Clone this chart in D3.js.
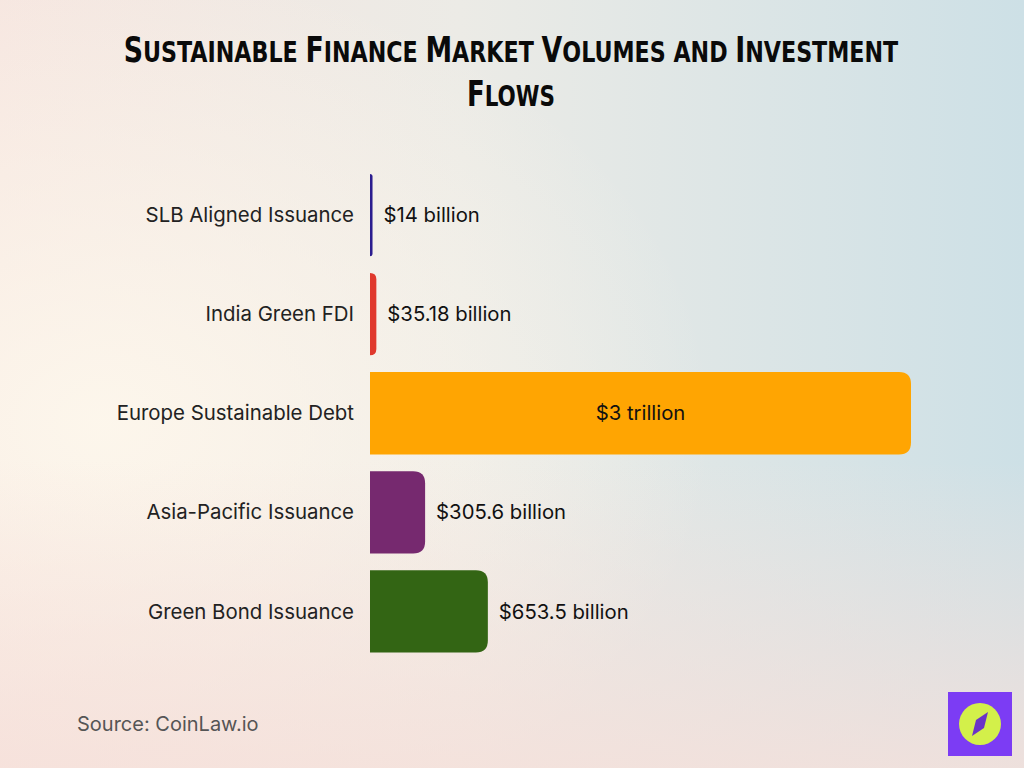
<!DOCTYPE html>
<html><head><meta charset="utf-8">
<script src="https://cdn.jsdelivr.net/npm/d3@7"></script>
<style>html,body{margin:0;padding:0;}svg{display:block;}</style>
</head><body>
<script>
const categories = ["SLB Aligned Issuance","India Green FDI","Europe Sustainable Debt","Asia-Pacific Issuance","Green Bond Issuance"];
const valuesBillion = [14, 35.18, 3000, 305.6, 653.5];
const valueLabels = ["$14 billion","$35.18 billion","$3 trillion","$305.6 billion","$653.5 billion"];
const colors = ["#2b1d8f","#e0392d","#ffa502","#76296f","#336514"];
const titleLines = ["Sustainable Finance Market Volumes and Investment", "Flows"];

const W = 1024, H = 768;
const svg = d3.select("body").append("svg").attr("width", W).attr("height", H);
const defs = svg.append("defs");

// background gradients
const g1 = defs.append("linearGradient").attr("id","bg1").attr("x1","0").attr("y1","0").attr("x2","1").attr("y2","0");
g1.append("stop").attr("offset","0").attr("stop-color","#f6e6e0");
g1.append("stop").attr("offset","0.45").attr("stop-color","#ecebe6");
g1.append("stop").attr("offset","1").attr("stop-color","#cde0e6");
svg.append("rect").attr("width",W).attr("height",H).attr("fill","url(#bg1)");
const g2 = defs.append("radialGradient").attr("id","bg2").attr("cx","0.1").attr("cy","0.55").attr("r","0.6");
g2.append("stop").attr("offset","0").attr("stop-color","#fdf7ec").attr("stop-opacity","0.95");
g2.append("stop").attr("offset","1").attr("stop-color","#fdf7ec").attr("stop-opacity","0");
svg.append("rect").attr("width",W).attr("height",H).attr("fill","url(#bg2)");
const g3 = defs.append("linearGradient").attr("id","bg3").attr("x1","0").attr("y1","0").attr("x2","0").attr("y2","1");
g3.append("stop").attr("offset","0.6").attr("stop-color","#f6e0da").attr("stop-opacity","0");
g3.append("stop").attr("offset","1").attr("stop-color","#f6e0da").attr("stop-opacity","0.8");
svg.append("rect").attr("width",W).attr("height",H).attr("fill","url(#bg3)");

// title: manual small caps (upper-case letters large, lower-case letters smaller caps), condensed by x-scaling
const title = svg.append("g").attr("font-family","'DejaVu Sans Condensed','DejaVu Sans',sans-serif")
  .attr("font-weight","bold").attr("fill","#0a0a0a").attr("text-anchor","middle");
const titleSpecs = [{y:62, len:775}, {y:106, len:88}];
titleLines.forEach((line, li) => {
  const t = title.append("text").attr("x",0).attr("y",0);
  const runs = [];
  for (const ch of line) {
    const big = ch !== ch.toLowerCase();
    if (runs.length && runs[runs.length-1].big === big) runs[runs.length-1].s += ch;
    else runs.push({big, s: ch});
  }
  runs.forEach(rn => t.append("tspan").attr("font-size", rn.big ? 35 : 29).text(rn.s.toUpperCase()));
  const natural = t.node().getComputedTextLength();
  t.attr("transform", `translate(511,${titleSpecs[li].y}) scale(${titleSpecs[li].len / natural},1)`);
});

const x0 = 370;
const x = d3.scaleLinear().domain([0, 3000]).range([x0, 911]);
const y = d3.scaleBand().domain(categories).range([165.5, 661]).paddingInner(0.17).paddingOuter(0.085);

const r = 12;
function barPath(w, yy, h) {
  const rr = Math.min(r, w, h/2);
  return `M${x0},${yy} H${x0 + w - rr} Q${x0 + w},${yy} ${x0 + w},${yy + rr} V${yy + h - rr} Q${x0 + w},${yy + h} ${x0 + w - rr},${yy + h} H${x0} Z`;
}

const rows = categories.map((c,i)=>({c, v: valuesBillion[i], label: valueLabels[i], color: colors[i]}));

svg.append("g").selectAll("path").data(rows).join("path")
  .attr("d", d => barPath(x(d.v) - x0, y(d.c), y.bandwidth()))
  .attr("fill", d => d.color);

// category labels
svg.append("g").attr("font-family","Inter, 'Noto Sans', sans-serif").attr("font-size",20.4).attr("fill","#222")
  .selectAll("text").data(rows).join("text")
  .attr("x", 354).attr("y", d => y(d.c) + y.bandwidth()/2).attr("dy","0.35em")
  .attr("text-anchor","end").text(d => d.c);

// value labels
svg.append("g").attr("font-family","Inter, 'Noto Sans', sans-serif").attr("font-size",20.3).attr("fill","#111")
  .selectAll("text").data(rows).join("text")
  .attr("x", d => d.v > 1500 ? (x0 + x(d.v))/2 : x(d.v) + 11)
  .attr("y", d => y(d.c) + y.bandwidth()/2).attr("dy","0.35em")
  .attr("text-anchor", d => d.v > 1500 ? "middle" : "start")
  .text(d => d.label);

// source
svg.append("text").attr("x",77).attr("y",731).attr("font-family","Inter, 'Noto Sans', sans-serif")
  .attr("font-size",20).attr("fill","#555").text("Source: CoinLaw.io");

// logo
const logo = svg.append("g").attr("transform","translate(948,692)");
logo.append("rect").attr("width",64).attr("height",64).attr("fill","#7c3cf4");
logo.append("circle").attr("cx",32).attr("cy",32).attr("r",21).attr("fill","#d3f04a");
logo.append("path").attr("d","M40,20 L36,36 L24,44 L28,28 Z").attr("fill","#6a33c8");
</script>
</body></html>
